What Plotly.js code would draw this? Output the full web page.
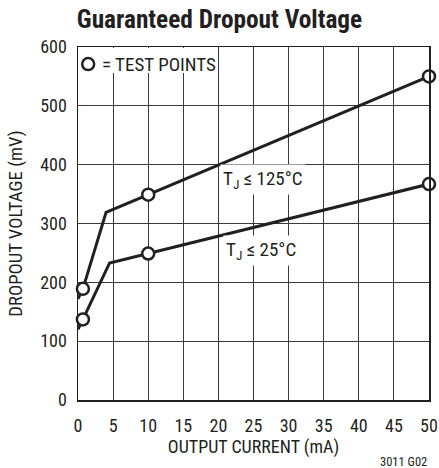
<!DOCTYPE html>
<html>
<head>
<meta charset="utf-8">
<script src="https://cdn.plot.ly/plotly-3.0.1.min.js"></script>
<style>
  html, body { margin: 0; padding: 0; background: #fff; }
  #chart { width: 439px; height: 468px; }
</style>
</head>
<body>
<div id="chart"></div>
<script>
// Output current (mA) and guaranteed dropout voltage (mV) along each curve
const currentHot = [0, 0.7, 4, 10, 50];
const dropoutHot = [172, 189, 319, 349, 550];
const currentRoom = [0, 0.7, 4.5, 10, 50];
const dropoutRoom = [120, 137, 233, 249, 367];

// Points where the limit is tested (index into each curve)
const testIdx = [1, 3, 4];

const xTicks = [0, 5, 10, 15, 20, 25, 30, 35, 40, 45, 50];
const yTicks = [0, 100, 200, 300, 400, 500, 600];

const FONT = '"Liberation Sans Narrow", "Arial Narrow", "Roboto Condensed", "Liberation Sans", sans-serif';
const INK = '#231f20';

function curve(xs, ys) {
  return {
    x: xs, y: ys, mode: 'lines', type: 'scatter', showlegend: false,
    line: { color: INK, width: 3 }, hoverinfo: 'skip'
  };
}
const ringMarker = { symbol: 'circle', size: 12, color: '#fff', line: { color: INK, width: 2.5 } };
function tests(xs, ys) {
  return {
    x: testIdx.map(i => xs[i]), y: testIdx.map(i => ys[i]),
    mode: 'markers', type: 'scatter', showlegend: false, cliponaxis: false,
    marker: ringMarker, hoverinfo: 'skip'
  };
}

const data = [
  curve(currentHot, dropoutHot),
  curve(currentRoom, dropoutRoom),
  tests(currentHot, dropoutHot),
  tests(currentRoom, dropoutRoom),
  // legend key: the ring symbol only, its caption is an annotation
  {
    x: [null], y: [null], mode: 'markers', type: 'scatter', name: ' ',
    marker: ringMarker, hoverinfo: 'skip'
  }
];

const axisCommon = {
  showline: true, mirror: true, linecolor: INK, linewidth: 1.5,
  showgrid: true, gridcolor: '#3a3a3a', gridwidth: 1,
  zeroline: false, ticks: '', fixedrange: true,
  tickfont: { family: FONT, size: 18, color: INK }
};

const layout = {
  width: 439, height: 468,
  margin: { l: 78, r: 10, t: 47, b: 68 },
  paper_bgcolor: '#fff', plot_bgcolor: '#fff',
  font: { family: FONT, color: INK },
  title: {
    text: 'Guaranteed Dropout Voltage',
    font: { family: FONT, size: 25.3, weight: 'bold', color: INK },
    x: 0.5, xref: 'container', xanchor: 'center',
    y: 1 - 19 / 468, yref: 'container', yanchor: 'middle'
  },
  xaxis: Object.assign({}, axisCommon, {
    range: [0, 50], tickvals: xTicks, ticktext: xTicks.map(String),
    ticklabelstandoff: 9,
    title: { text: 'OUTPUT CURRENT (mA)', font: { family: FONT, size: 18, color: INK }, standoff: 4 }
  }),
  yaxis: Object.assign({}, axisCommon, {
    range: [0, 600], tickvals: yTicks, ticktext: yTicks.map(String),
    ticklabelstandoff: 6,
    title: { text: 'DROPOUT VOLTAGE (mV)', font: { family: FONT, size: 18.7, color: INK }, standoff: 12 }
  }),
  showlegend: true,
  legend: {
    x: -0.028, y: 1.005, xanchor: 'left', yanchor: 'top',
    bgcolor: 'rgba(0,0,0,0)', borderwidth: 0,
    font: { family: FONT, size: 19, color: INK },
    itemwidth: 30, tracegroupgap: 0
  },
  // white panel behind the legend key, inside the frame
  shapes: [
    {
      type: 'rect', xref: 'paper', yref: 'paper', layer: 'above',
      x0: 0.003, x1: 0.385, y0: 0.926, y1: 0.997,
      fillcolor: '#fff', line: { width: 0 }
    }
  ],
  annotations: [
    {
      x: 0.062, y: 0.951, xref: 'paper', yref: 'paper', xanchor: 'left', yanchor: 'middle',
      text: '= TEST POINTS', showarrow: false,
      font: { family: FONT, size: 19, color: INK }
    },
    {
      x: 26.3, y: 374, xref: 'x', yref: 'y',
      text: 'T<sub>J</sub> ≤ 125°C', showarrow: false,
      font: { family: FONT, size: 19, color: INK }, bgcolor: '#fff', borderpad: 2
    },
    {
      x: 26.1, y: 254, xref: 'x', yref: 'y',
      text: 'T<sub>J</sub> ≤ 25°C', showarrow: false,
      font: { family: FONT, size: 19, color: INK }, bgcolor: '#fff', borderpad: 2
    },
    {
      x: 1, y: -0.173, xref: 'paper', yref: 'paper', xanchor: 'right', yanchor: 'middle',
      text: '3011 G02', showarrow: false,
      font: { family: FONT, size: 12.5, color: INK }
    }
  ]
};

Plotly.newPlot('chart', data, layout, { displayModeBar: false, staticPlot: true });
</script>
</body>
</html>
